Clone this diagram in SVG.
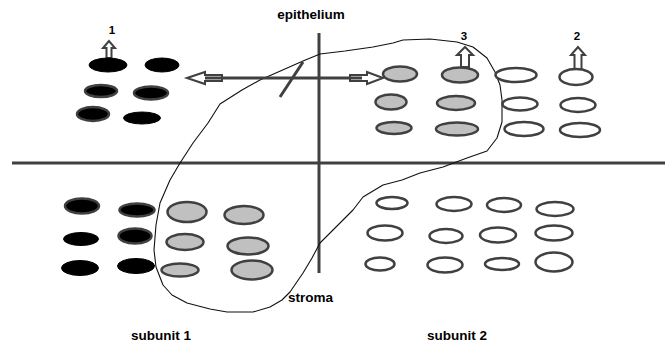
<svg xmlns="http://www.w3.org/2000/svg" width="668" height="345" viewBox="0 0 668 345">
<style>
.ln{stroke:#404040;stroke-width:3;fill:none}
.blk{fill:#000;stroke:#404040;stroke-width:2.5}
.blk0{fill:#000;stroke:#000;stroke-width:1}
.gry{fill:#c0c0c0;stroke:#404040;stroke-width:2.5}
.wht{fill:#fff;stroke:#404040;stroke-width:2.5}
.arr{fill:#fff;stroke:#404040;stroke-width:2}
.blob{fill:none;stroke:#111;stroke-width:1.1;stroke-linejoin:round}
text{font-family:"Liberation Sans",Arial,sans-serif;font-weight:bold;fill:#000}
.lb{font-size:13.5px}
.num{font-size:11.5px;text-anchor:middle}
</style>
<rect width="668" height="345" fill="#fff"/>
<g id="axes">
<line class="ln" x1="12" y1="163" x2="665" y2="163"/>
<line class="ln" x1="319" y1="33" x2="319" y2="273"/>
</g>
<g id="stroma-outline">
<polyline class="blob" points="193,143 180,163 170,180 160,203 156,225 154,250 156,267 163,285 172,295 187,303 210,309 227,312 253,312 270,307 282,300 290,292 303,273 312,258 320,243 333,230 345,218 353,210 363,197 383,185 402,180 420,173 443,167 467,158 487,151 497,138 502,122 502,100 500,85 495,72 487,58 473,47 457,42 430,39 403,40 393,43 373,47 345,51 320,54 303,61 260,80 242,90 220,104 208,123 193,143"/>
</g>
<g id="connectors">
<polygon class="arr" points="187,78 205,72 205,75 222,75 222,81 205,81 205,84"/>
<polygon class="arr" points="383,78 367,72 367,75 350,75 350,81 367,81 367,84"/>
<line class="ln" x1="205" y1="78" x2="362" y2="78"/>
<line class="ln" x1="280" y1="97" x2="303" y2="62"/>
<polygon class="arr" points="109,41 103,48 106.5,48 106.5,58 111.5,58 111.5,48 115,48"/>
<polygon class="arr" points="465,47 457,55 461,55 461,67 469,67 469,55 473,55"/>
<polygon class="arr" points="578,47 571,55 574.5,55 574.5,70 581.5,70 581.5,55 585,55"/>
</g>
<g id="subunit1-epithelium">
<ellipse class="blk0" cx="108" cy="65" rx="19" ry="7"/>
<ellipse class="blk0" cx="162" cy="65" rx="17" ry="7"/>
<ellipse class="blk" cx="101" cy="91" rx="16" ry="6"/>
<ellipse class="blk" cx="151" cy="93" rx="17" ry="6.5"/>
<ellipse class="blk" cx="93" cy="114" rx="16" ry="7"/>
<ellipse class="blk0" cx="142" cy="118" rx="18.5" ry="6"/>
</g>
<g id="subunit2-epithelium">
<ellipse class="gry" cx="400" cy="74" rx="17" ry="7.5"/>
<ellipse class="gry" cx="460" cy="75" rx="18" ry="7.5"/>
<ellipse class="gry" cx="391" cy="102" rx="15.5" ry="7.5"/>
<ellipse class="gry" cx="456" cy="103" rx="19" ry="7"/>
<ellipse class="gry" cx="394" cy="128" rx="17.5" ry="6"/>
<ellipse class="gry" cx="457" cy="129" rx="21" ry="6.5"/>
<ellipse class="wht" cx="516" cy="75" rx="20.5" ry="7"/>
<ellipse class="wht" cx="576" cy="77" rx="16.5" ry="8"/>
<ellipse class="wht" cx="520" cy="104" rx="17.5" ry="6.5"/>
<ellipse class="wht" cx="578" cy="105" rx="17.5" ry="7"/>
<ellipse class="wht" cx="524" cy="129" rx="19.5" ry="7"/>
<ellipse class="wht" cx="580" cy="130" rx="20" ry="7"/>
</g>
<g id="subunit1-stroma">
<ellipse class="blk" cx="82" cy="206" rx="17" ry="7.5"/>
<ellipse class="blk" cx="137" cy="210" rx="17.5" ry="6.5"/>
<ellipse class="gry" cx="187" cy="212" rx="19.5" ry="10"/>
<ellipse class="gry" cx="244" cy="215" rx="19.5" ry="9"/>
<ellipse class="blk0" cx="81" cy="239" rx="17.5" ry="6.5"/>
<ellipse class="blk" cx="135" cy="236" rx="16.5" ry="7.5"/>
<ellipse class="gry" cx="185" cy="242" rx="18.5" ry="8"/>
<ellipse class="gry" cx="248" cy="246" rx="20.5" ry="8.5"/>
<ellipse class="blk0" cx="80" cy="268" rx="18.5" ry="7.5"/>
<ellipse class="blk0" cx="136" cy="266" rx="18.5" ry="7.5"/>
<ellipse class="gry" cx="180" cy="270" rx="18.5" ry="6.5"/>
<ellipse class="gry" cx="252" cy="270" rx="20.5" ry="9.5"/>
</g>
<g id="subunit2-stroma">
<ellipse class="wht" cx="392" cy="203" rx="15.5" ry="6"/>
<ellipse class="wht" cx="454" cy="204" rx="17.5" ry="7"/>
<ellipse class="wht" cx="504" cy="205" rx="17" ry="7"/>
<ellipse class="wht" cx="555" cy="209" rx="18.5" ry="7"/>
<ellipse class="wht" cx="385" cy="233" rx="17.5" ry="7.5"/>
<ellipse class="wht" cx="446" cy="236" rx="16.5" ry="7"/>
<ellipse class="wht" cx="498" cy="235" rx="18" ry="7.5"/>
<ellipse class="wht" cx="554" cy="233" rx="18.5" ry="7.5"/>
<ellipse class="wht" cx="380" cy="264" rx="14.5" ry="6.5"/>
<ellipse class="wht" cx="445" cy="265" rx="17.5" ry="7.5"/>
<ellipse class="wht" cx="502" cy="264" rx="17" ry="6"/>
<ellipse class="wht" cx="554" cy="262" rx="18.5" ry="9.5"/>
</g>
<g id="labels">
<text class="lb" x="311" y="19" text-anchor="middle">epithelium</text>
<text class="lb" x="288" y="302">stroma</text>
<text class="lb" x="131" y="340">subunit 1</text>
<text class="lb" x="427" y="340">subunit 2</text>
<text class="num" x="112" y="34">1</text>
<text class="num" x="464" y="40">3</text>
<text class="num" x="577" y="40">2</text>
</g>
</svg>
